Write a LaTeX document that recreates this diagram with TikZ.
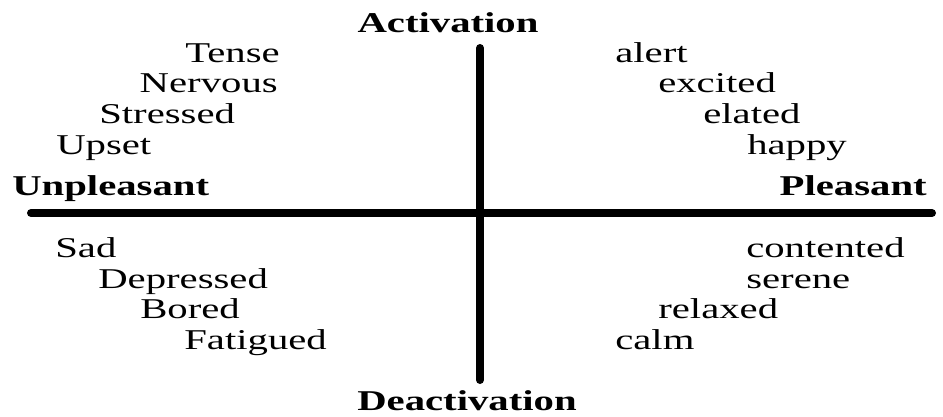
\documentclass[tikz,border=0pt]{standalone}
\usepackage{fontspec}
\setmainfont{Liberation Serif}[FakeStretch=1.42]
\usetikzlibrary{calc,positioning}
\tikzset{
  mood/.style  = {inner sep=0pt, font=\fontsize{20.4}{24}\selectfont},
  pole/.style  = {mood, font=\fontsize{20.4}{24}\selectfont\bfseries},
  axis line/.style = {line width=0.2cm, line cap=round}
}
\begin{document}
\begin{tikzpicture}[x=0.25mm, y=-0.25mm]
\useasboundingbox (0,0) rectangle (943,416);
\def\wordl(#1)[#2] at (#3);{\node[mood, anchor=base west] (#1) at (#3) {#2};}
\def\wordr(#1)[#2] at (#3);{\node[mood, anchor=base east] (#1) at (#3) {#2};}

%---------------------------------------------
\coordinate (top)    at (480, 48);
\coordinate (bottom) at (480,380);
\coordinate (left)   at ( 31,213);
\coordinate (right)  at (932,213);
\draw[axis line] (left) -- (right);
\draw[axis line] (top) -- (bottom);

\node[pole, anchor=base]      (act)   at (448, 32) {Activation};
\node[pole, anchor=base]      (deact) at (467,410) {Deactivation};
\node[pole, anchor=base west] (unpl)  at ( 12,195) {Unpleasant};
\node[pole, anchor=base east] (pl)    at (927,195) {Pleasant};

%---------------------------------------------
\wordr (tense)[Tense]       at (280, 62);
\wordr (nervous)[Nervous]   at (278, 92);
\wordl (stressed)[Stressed] at ( 99,123);
\wordl (upset)[Upset]       at ( 56,154);

\wordl (alert)[alert]       at (615, 62);
\wordl (excited)[excited]   at (658, 92);
\wordl (elated)[elated]     at (703,123);
\wordl (happy)[happy]       at (747,154);

\wordl (sad)[Sad]           at ( 55,257);
\wordl (depr)[Depressed]    at ( 98,288);
\wordl (bored)[Bored]       at (140,318);
\wordl (fatig)[Fatigued]    at (184,349);

\wordl (content)[contented] at (746,257);
\wordl (serene)[serene]     at (746,288);
\wordl (relaxed)[relaxed]   at (658,318);
\wordl (calm)[calm]         at (615,349);

\end{tikzpicture}
\end{document}
